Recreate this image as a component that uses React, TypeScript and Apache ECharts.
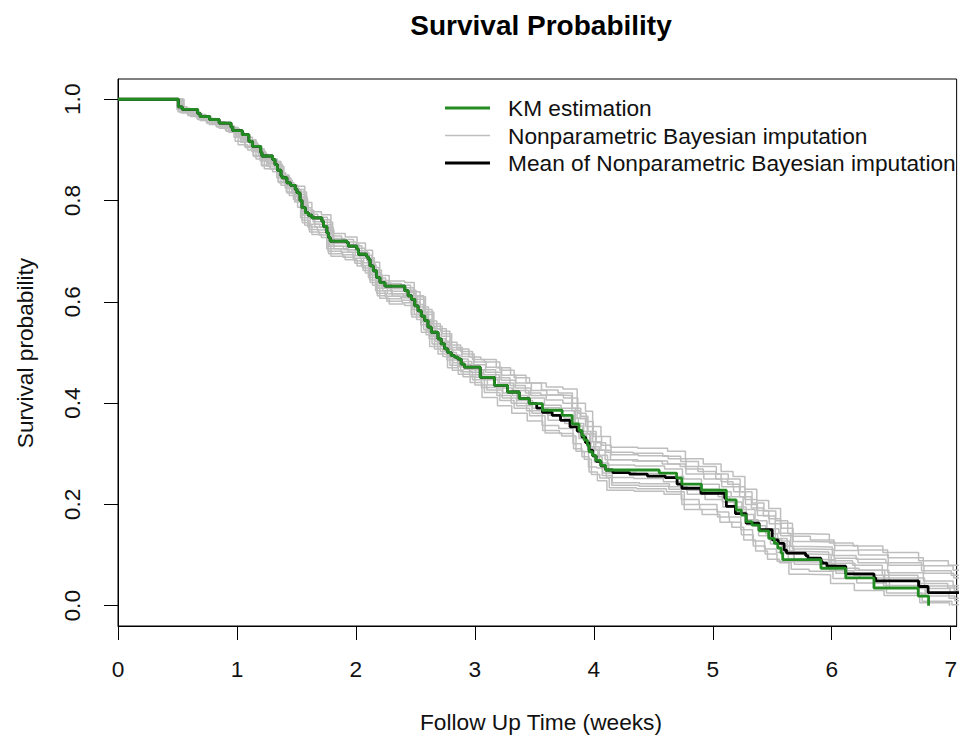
import React, { useEffect, useRef } from "react";
import * as echarts from "echarts";

// Step curves: each pair is [time in weeks, survival probability from that time on]
const kmEstimation: [number, number][] = [
  [0, 1], [0.507, 0.985], [0.54, 0.98], [0.67, 0.972], [0.69, 0.966], [0.77, 0.96], [0.85, 0.953],
  [0.95, 0.945], [0.965, 0.938], [1.045, 0.93], [1.1, 0.917], [1.13, 0.907], [1.2, 0.895], [1.21, 0.888],
  [1.3, 0.881], [1.32, 0.871], [1.34, 0.86], [1.37, 0.849], [1.38, 0.845], [1.42, 0.835], [1.45, 0.83],
  [1.49, 0.822], [1.505, 0.815], [1.53, 0.8], [1.547, 0.786], [1.575, 0.776], [1.6, 0.771], [1.63, 0.766],
  [1.714, 0.759], [1.728, 0.749], [1.756, 0.736], [1.77, 0.727], [1.784, 0.72], [1.923, 0.717], [1.937, 0.71],
  [2.007, 0.704], [2.021, 0.694], [2.09, 0.689], [2.104, 0.684], [2.119, 0.671], [2.146, 0.661], [2.174, 0.648],
  [2.202, 0.638], [2.244, 0.631], [2.411, 0.622], [2.439, 0.612], [2.467, 0.605], [2.495, 0.592], [2.523, 0.582],
  [2.55, 0.572], [2.578, 0.563], [2.606, 0.55], [2.634, 0.54], [2.69, 0.527], [2.717, 0.517], [2.746, 0.507],
  [2.773, 0.5], [2.801, 0.494], [2.829, 0.491], [2.857, 0.487], [2.885, 0.477], [2.913, 0.471], [3.045, 0.451],
  [3.164, 0.435], [3.275, 0.422], [3.373, 0.409], [3.457, 0.399], [3.568, 0.386], [3.734, 0.376], [3.818, 0.359],
  [3.875, 0.346], [3.9, 0.336], [3.918, 0.327], [3.946, 0.317], [3.96, 0.304], [3.988, 0.297], [4.016, 0.287],
  [4.058, 0.277], [4.1, 0.268], [4.55, 0.262], [4.696, 0.252], [4.74, 0.24], [4.905, 0.228], [5.114, 0.209],
  [5.197, 0.189], [5.24, 0.179], [5.28, 0.166], [5.33, 0.159], [5.39, 0.148], [5.47, 0.133], [5.518, 0.123],
  [5.546, 0.114], [5.574, 0.104], [5.588, 0.091], [5.909, 0.074], [6.118, 0.055], [6.355, 0.035], [6.727, 0.019],
  [6.814, 0],
];

const imputationMean: [number, number][] = [
  [0, 1], [0.507, 0.985], [0.54, 0.98], [0.67, 0.972], [0.69, 0.966], [0.77, 0.96], [0.85, 0.953],
  [0.95, 0.945], [0.965, 0.938], [1.045, 0.93], [1.1, 0.917], [1.13, 0.907], [1.2, 0.895], [1.21, 0.888],
  [1.3, 0.881], [1.32, 0.871], [1.34, 0.86], [1.37, 0.849], [1.38, 0.845], [1.42, 0.835], [1.45, 0.83],
  [1.49, 0.822], [1.505, 0.815], [1.53, 0.8], [1.547, 0.786], [1.575, 0.776], [1.6, 0.771], [1.63, 0.766],
  [1.714, 0.759], [1.728, 0.749], [1.756, 0.736], [1.77, 0.727], [1.784, 0.72], [1.923, 0.717], [1.937, 0.71],
  [2.007, 0.704], [2.021, 0.694], [2.09, 0.689], [2.104, 0.684], [2.119, 0.671], [2.146, 0.661], [2.174, 0.648],
  [2.202, 0.638], [2.244, 0.631], [2.411, 0.622], [2.439, 0.612], [2.467, 0.605], [2.495, 0.592], [2.523, 0.582],
  [2.55, 0.572], [2.578, 0.563], [2.606, 0.55], [2.634, 0.54], [2.69, 0.527], [2.717, 0.517], [2.746, 0.507],
  [2.773, 0.5], [2.801, 0.494], [2.829, 0.491], [2.857, 0.487], [2.885, 0.477], [2.913, 0.471], [3.045, 0.451],
  [3.164, 0.435], [3.275, 0.422], [3.373, 0.409], [3.457, 0.399], [3.52, 0.39], [3.568, 0.382], [3.65, 0.376],
  [3.72, 0.366], [3.8, 0.353], [3.86, 0.345], [3.9, 0.333], [3.93, 0.322], [3.96, 0.307], [3.99, 0.296],
  [4.02, 0.285], [4.06, 0.276], [4.1, 0.268], [4.16, 0.263], [4.3, 0.26], [4.45, 0.256], [4.6, 0.253],
  [4.7, 0.24], [4.74, 0.232], [4.9, 0.222], [5.1, 0.212], [5.114, 0.196], [5.19, 0.182], [5.28, 0.163],
  [5.39, 0.15], [5.5, 0.13], [5.55, 0.123], [5.6, 0.11], [5.62, 0.104], [5.78, 0.099], [5.8, 0.094],
  [5.909, 0.088], [5.92, 0.084], [5.96, 0.078], [6.118, 0.063], [6.355, 0.055], [6.37, 0.049], [6.73, 0.038],
  [6.81, 0.026], [7.2, 0.026],
];

const imputation1: [number, number][] = [
  [0, 1], [0.53, 0.982], [0.61, 0.975], [0.69, 0.967], [0.78, 0.959], [0.85, 0.952], [0.94, 0.944], [1.01, 0.93],
  [1.09, 0.92], [1.16, 0.902], [1.23, 0.883], [1.3, 0.877], [1.37, 0.85], [1.44, 0.83], [1.51, 0.828],
  [1.57, 0.796], [1.63, 0.778], [1.71, 0.772], [1.79, 0.735], [1.91, 0.728], [2.01, 0.716], [2.08, 0.702],
  [2.14, 0.678], [2.2, 0.652], [2.28, 0.641], [2.41, 0.638], [2.49, 0.612], [2.57, 0.585], [2.64, 0.557],
  [2.71, 0.542], [2.79, 0.515], [2.88, 0.502], [2.98, 0.486], [3.08, 0.481], [3.21, 0.465], [3.33, 0.45],
  [3.46, 0.44], [3.6, 0.432], [3.74, 0.428], [3.86, 0.4], [3.93, 0.384], [3.99, 0.354], [4.06, 0.334],
  [4.14, 0.313], [4.37, 0.311], [4.62, 0.305], [4.77, 0.29], [4.92, 0.28], [5.07, 0.265], [5.17, 0.255],
  [5.27, 0.23], [5.37, 0.208], [5.47, 0.192], [5.57, 0.163], [5.67, 0.137], [5.82, 0.13], [6.02, 0.119],
  [6.22, 0.11], [6.47, 0.095], [6.77, 0.079], [7.02, 0.07], [7.2, 0.07],
];

const imputation2: [number, number][] = [
  [0, 1], [0.51, 0.975], [0.59, 0.968], [0.67, 0.96], [0.75, 0.952], [0.83, 0.945], [0.91, 0.937], [0.99, 0.925],
  [1.07, 0.905], [1.14, 0.887], [1.21, 0.868], [1.28, 0.862], [1.35, 0.835], [1.42, 0.815], [1.49, 0.8],
  [1.55, 0.756], [1.61, 0.738], [1.69, 0.732], [1.77, 0.695], [1.89, 0.688], [1.99, 0.676], [2.06, 0.662],
  [2.12, 0.638], [2.18, 0.612], [2.26, 0.601], [2.39, 0.598], [2.47, 0.57], [2.55, 0.54], [2.62, 0.512],
  [2.69, 0.497], [2.77, 0.47], [2.86, 0.457], [2.96, 0.441], [3.06, 0.411], [3.19, 0.395], [3.31, 0.38],
  [3.44, 0.365], [3.57, 0.346], [3.71, 0.34], [3.83, 0.31], [3.9, 0.294], [3.96, 0.264], [4.03, 0.247],
  [4.11, 0.228], [4.34, 0.226], [4.59, 0.22], [4.74, 0.2], [4.89, 0.19], [5.04, 0.175], [5.14, 0.165],
  [5.24, 0.14], [5.34, 0.118], [5.44, 0.102], [5.54, 0.088], [5.64, 0.062], [5.79, 0.061], [5.99, 0.044],
  [6.19, 0.03], [6.44, 0.02], [6.74, 0.006], [6.99, 0],
];

const imputation3: [number, number][] = [
  [0, 1], [0.54, 0.98], [0.62, 0.973], [0.7, 0.965], [0.78, 0.957], [0.86, 0.95], [0.94, 0.942], [1.02, 0.925],
  [1.1, 0.915], [1.17, 0.897], [1.24, 0.878], [1.31, 0.872], [1.38, 0.845], [1.45, 0.825], [1.52, 0.812],
  [1.58, 0.776], [1.64, 0.758], [1.72, 0.752], [1.8, 0.715], [1.92, 0.708], [2.02, 0.696], [2.09, 0.682],
  [2.15, 0.658], [2.21, 0.632], [2.29, 0.621], [2.42, 0.618], [2.5, 0.605], [2.58, 0.575], [2.65, 0.547],
  [2.72, 0.532], [2.8, 0.505], [2.89, 0.492], [2.99, 0.476], [3.09, 0.461], [3.22, 0.445], [3.34, 0.43],
  [3.47, 0.415], [3.6, 0.406], [3.74, 0.4], [3.86, 0.37], [3.93, 0.354], [3.99, 0.324], [4.06, 0.307],
  [4.14, 0.288], [4.37, 0.286], [4.62, 0.28], [4.77, 0.27], [4.92, 0.26], [5.07, 0.245], [5.17, 0.235],
  [5.27, 0.21], [5.37, 0.188], [5.47, 0.172], [5.57, 0.138], [5.67, 0.112], [5.82, 0.111], [6.02, 0.094],
  [6.22, 0.085], [6.47, 0.065], [6.77, 0.049], [7.02, 0.04], [7.2, 0.04],
];

const imputation4: [number, number][] = [
  [0, 1], [0.555, 0.977], [0.635, 0.97], [0.715, 0.962], [0.795, 0.954], [0.875, 0.947], [0.955, 0.939],
  [1.035, 0.92], [1.115, 0.91], [1.185, 0.892], [1.255, 0.873], [1.325, 0.867], [1.395, 0.84], [1.465, 0.82],
  [1.535, 0.802], [1.595, 0.766], [1.655, 0.748], [1.735, 0.742], [1.815, 0.705], [1.935, 0.698], [2.035, 0.686],
  [2.105, 0.672], [2.165, 0.648], [2.225, 0.622], [2.305, 0.611], [2.435, 0.608], [2.515, 0.58], [2.595, 0.55],
  [2.665, 0.522], [2.735, 0.507], [2.815, 0.48], [2.905, 0.467], [3.005, 0.451], [3.105, 0.436], [3.235, 0.42],
  [3.355, 0.405], [3.485, 0.39], [3.615, 0.366], [3.755, 0.36], [3.875, 0.33], [3.945, 0.314], [4.005, 0.284],
  [4.075, 0.262], [4.155, 0.243], [4.385, 0.241], [4.635, 0.235], [4.785, 0.22], [4.935, 0.21], [5.085, 0.195],
  [5.185, 0.185], [5.285, 0.16], [5.385, 0.138], [5.485, 0.122], [5.585, 0.108], [5.685, 0.082], [5.835, 0.081],
  [6.035, 0.064], [6.235, 0.055], [6.485, 0.035], [6.785, 0.019], [7.035, 0.01], [7.2, 0.01],
];

const imputation5: [number, number][] = [
  [0, 1], [0.5, 0.985], [0.58, 0.978], [0.66, 0.97], [0.74, 0.962], [0.82, 0.955], [0.9, 0.947], [0.98, 0.935],
  [1.06, 0.925], [1.13, 0.907], [1.2, 0.888], [1.27, 0.882], [1.34, 0.855], [1.41, 0.835], [1.48, 0.822],
  [1.54, 0.791], [1.6, 0.773], [1.68, 0.767], [1.76, 0.73], [1.88, 0.723], [1.98, 0.711], [2.05, 0.697],
  [2.11, 0.673], [2.17, 0.647], [2.25, 0.636], [2.38, 0.633], [2.46, 0.62], [2.54, 0.59], [2.61, 0.562],
  [2.68, 0.547], [2.76, 0.52], [2.85, 0.507], [2.95, 0.491], [3.05, 0.486], [3.18, 0.47], [3.3, 0.455],
  [3.43, 0.44], [3.56, 0.426], [3.7, 0.42], [3.82, 0.39], [3.89, 0.374], [3.95, 0.344], [4.02, 0.322],
  [4.1, 0.303], [4.33, 0.301], [4.58, 0.295], [4.73, 0.285], [4.88, 0.275], [5.03, 0.26], [5.13, 0.25],
  [5.23, 0.225], [5.33, 0.203], [5.43, 0.187], [5.53, 0.168], [5.63, 0.142], [5.78, 0.141], [5.98, 0.124],
  [6.18, 0.118], [6.43, 0.105], [6.73, 0.089], [6.98, 0.08], [7.2, 0.08],
];

const imputation6: [number, number][] = [
  [0, 1], [0.53, 0.973], [0.61, 0.966], [0.69, 0.958], [0.77, 0.95], [0.85, 0.943], [0.93, 0.935], [1.01, 0.91],
  [1.09, 0.9], [1.16, 0.882], [1.23, 0.863], [1.3, 0.857], [1.37, 0.83], [1.44, 0.81], [1.51, 0.787],
  [1.57, 0.751], [1.63, 0.733], [1.71, 0.727], [1.79, 0.69], [1.91, 0.683], [2.01, 0.671], [2.08, 0.657],
  [2.14, 0.633], [2.2, 0.607], [2.28, 0.596], [2.41, 0.593], [2.49, 0.575], [2.57, 0.545], [2.64, 0.517],
  [2.71, 0.502], [2.79, 0.475], [2.88, 0.462], [2.98, 0.446], [3.08, 0.421], [3.21, 0.405], [3.33, 0.39],
  [3.46, 0.375], [3.59, 0.341], [3.73, 0.335], [3.85, 0.305], [3.92, 0.289], [3.98, 0.259], [4.05, 0.252],
  [4.13, 0.233], [4.36, 0.231], [4.61, 0.225], [4.76, 0.19], [4.91, 0.18], [5.06, 0.165], [5.16, 0.155],
  [5.26, 0.13], [5.36, 0.108], [5.46, 0.092], [5.56, 0.085], [5.66, 0.072], [5.81, 0.068], [6.01, 0.054],
  [6.21, 0.045], [6.46, 0.025], [6.76, 0.009], [7.01, 0.002], [7.2, 0.002],
];

const imputation7: [number, number][] = [
  [0, 1], [0.515, 0.981], [0.595, 0.974], [0.675, 0.966], [0.755, 0.958], [0.835, 0.951], [0.915, 0.943],
  [0.995, 0.927], [1.075, 0.917], [1.145, 0.899], [1.215, 0.88], [1.285, 0.874], [1.355, 0.847], [1.425, 0.827],
  [1.495, 0.807], [1.555, 0.771], [1.615, 0.753], [1.695, 0.747], [1.775, 0.71], [1.895, 0.703], [1.995, 0.691],
  [2.065, 0.677], [2.125, 0.653], [2.185, 0.627], [2.265, 0.616], [2.395, 0.613], [2.475, 0.585], [2.555, 0.56],
  [2.625, 0.532], [2.695, 0.517], [2.775, 0.49], [2.865, 0.477], [2.965, 0.461], [3.065, 0.446], [3.195, 0.43],
  [3.315, 0.415], [3.445, 0.4], [3.575, 0.391], [3.715, 0.385], [3.835, 0.355], [3.905, 0.339], [3.965, 0.309],
  [4.035, 0.297], [4.115, 0.278], [4.345, 0.276], [4.595, 0.27], [4.745, 0.24], [4.895, 0.23], [5.045, 0.215],
  [5.145, 0.205], [5.245, 0.18], [5.345, 0.158], [5.445, 0.142], [5.545, 0.128], [5.645, 0.102], [5.795, 0.101],
  [5.995, 0.084], [6.195, 0.07], [6.445, 0.05], [6.745, 0.034], [6.995, 0.025], [7.2, 0.025],
];

const imputation8: [number, number][] = [
  [0, 1], [0.545, 0.979], [0.625, 0.972], [0.705, 0.964], [0.785, 0.956], [0.865, 0.949], [0.945, 0.941],
  [1.025, 0.923], [1.105, 0.913], [1.175, 0.895], [1.245, 0.876], [1.315, 0.87], [1.385, 0.843], [1.455, 0.823],
  [1.525, 0.817], [1.585, 0.781], [1.645, 0.763], [1.725, 0.757], [1.805, 0.72], [1.925, 0.713], [2.025, 0.701],
  [2.095, 0.687], [2.155, 0.663], [2.215, 0.637], [2.295, 0.626], [2.425, 0.623], [2.505, 0.61], [2.585, 0.58],
  [2.655, 0.552], [2.725, 0.537], [2.805, 0.51], [2.895, 0.497], [2.995, 0.481], [3.095, 0.471], [3.225, 0.455],
  [3.345, 0.44], [3.475, 0.425], [3.605, 0.416], [3.745, 0.41], [3.865, 0.38], [3.935, 0.364], [3.995, 0.334],
  [4.065, 0.317], [4.145, 0.298], [4.375, 0.296], [4.625, 0.29], [4.775, 0.26], [4.925, 0.25], [5.075, 0.235],
  [5.175, 0.225], [5.275, 0.2], [5.375, 0.178], [5.475, 0.162], [5.575, 0.153], [5.675, 0.127], [5.825, 0.126],
  [6.025, 0.109], [6.225, 0.1], [6.475, 0.08], [6.775, 0.064], [7.025, 0.055], [7.2, 0.055],
];

const imputation9: [number, number][] = [
  [0, 1], [0.505, 0.976], [0.585, 0.969], [0.665, 0.961], [0.745, 0.953], [0.825, 0.946], [0.905, 0.938],
  [0.985, 0.917], [1.065, 0.907], [1.135, 0.889], [1.205, 0.87], [1.275, 0.864], [1.345, 0.837], [1.415, 0.817],
  [1.485, 0.797], [1.545, 0.761], [1.605, 0.743], [1.685, 0.737], [1.765, 0.7], [1.885, 0.693], [1.985, 0.681],
  [2.055, 0.667], [2.115, 0.643], [2.175, 0.617], [2.255, 0.606], [2.385, 0.603], [2.465, 0.575], [2.545, 0.555],
  [2.615, 0.527], [2.685, 0.512], [2.765, 0.485], [2.855, 0.472], [2.955, 0.456], [3.055, 0.431], [3.185, 0.415],
  [3.305, 0.4], [3.435, 0.385], [3.565, 0.356], [3.705, 0.35], [3.825, 0.32], [3.895, 0.304], [3.955, 0.274],
  [4.025, 0.272], [4.105, 0.253], [4.335, 0.251], [4.585, 0.245], [4.735, 0.21], [4.885, 0.2], [5.035, 0.185],
  [5.135, 0.175], [5.235, 0.15], [5.335, 0.128], [5.435, 0.112], [5.535, 0.105], [5.635, 0.087], [5.785, 0.086],
  [5.985, 0.069], [6.185, 0.06], [6.435, 0.04], [6.735, 0.024], [6.985, 0.015], [7.2, 0.015],
];

const imputation10: [number, number][] = [
  [0, 1], [0.525, 0.982], [0.605, 0.975], [0.685, 0.967], [0.765, 0.959], [0.845, 0.952], [0.925, 0.944],
  [1.005, 0.93], [1.085, 0.92], [1.155, 0.902], [1.225, 0.883], [1.295, 0.877], [1.365, 0.85], [1.435, 0.83],
  [1.505, 0.822], [1.565, 0.786], [1.625, 0.768], [1.705, 0.762], [1.785, 0.725], [1.905, 0.718], [2.005, 0.706],
  [2.075, 0.692], [2.135, 0.668], [2.195, 0.642], [2.275, 0.631], [2.405, 0.628], [2.485, 0.595], [2.565, 0.565],
  [2.635, 0.537], [2.705, 0.522], [2.785, 0.495], [2.875, 0.482], [2.975, 0.466], [3.075, 0.456], [3.205, 0.44],
  [3.325, 0.425], [3.455, 0.41], [3.585, 0.396], [3.725, 0.39], [3.845, 0.36], [3.915, 0.344], [3.975, 0.314],
  [4.045, 0.282], [4.125, 0.263], [4.355, 0.261], [4.605, 0.255], [4.755, 0.25], [4.905, 0.24], [5.055, 0.225],
  [5.155, 0.215], [5.255, 0.19], [5.355, 0.168], [5.455, 0.152], [5.555, 0.143], [5.655, 0.117], [5.805, 0.116],
  [6.005, 0.099], [6.205, 0.092], [6.455, 0.085], [6.755, 0.069], [7.005, 0.06], [7.2, 0.06],
];

const imputation11: [number, number][] = [
  [0, 1], [0.55, 0.975], [0.63, 0.968], [0.71, 0.96], [0.79, 0.952], [0.87, 0.945], [0.95, 0.937], [1.03, 0.915],
  [1.11, 0.905], [1.18, 0.887], [1.25, 0.868], [1.32, 0.862], [1.39, 0.835], [1.46, 0.815], [1.53, 0.807],
  [1.59, 0.771], [1.65, 0.753], [1.73, 0.747], [1.81, 0.71], [1.93, 0.703], [2.03, 0.691], [2.1, 0.677],
  [2.16, 0.653], [2.22, 0.627], [2.3, 0.616], [2.43, 0.613], [2.51, 0.565], [2.59, 0.535], [2.66, 0.507],
  [2.73, 0.492], [2.81, 0.465], [2.9, 0.452], [3.0, 0.436], [3.1, 0.426], [3.23, 0.41], [3.35, 0.395],
  [3.48, 0.38], [3.61, 0.376], [3.75, 0.37], [3.87, 0.34], [3.94, 0.324], [4.0, 0.294], [4.07, 0.257],
  [4.15, 0.238], [4.38, 0.236], [4.63, 0.23], [4.78, 0.228], [4.93, 0.22], [5.08, 0.205], [5.18, 0.195],
  [5.28, 0.17], [5.38, 0.148], [5.48, 0.132], [5.58, 0.118], [5.68, 0.092], [5.83, 0.091], [6.03, 0.074],
  [6.23, 0.07], [6.48, 0.055], [6.78, 0.039], [7.03, 0.03], [7.2, 0.03],
];

const imputation12: [number, number][] = [
  [0, 1], [0.495, 0.98], [0.575, 0.973], [0.655, 0.965], [0.735, 0.957], [0.815, 0.95], [0.895, 0.942],
  [0.975, 0.925], [1.055, 0.915], [1.125, 0.897], [1.195, 0.878], [1.265, 0.872], [1.335, 0.845], [1.405, 0.825],
  [1.475, 0.802], [1.535, 0.766], [1.595, 0.748], [1.675, 0.742], [1.755, 0.705], [1.875, 0.698], [1.975, 0.686],
  [2.045, 0.672], [2.105, 0.648], [2.165, 0.622], [2.245, 0.611], [2.375, 0.608], [2.455, 0.6], [2.535, 0.57],
  [2.605, 0.542], [2.675, 0.527], [2.755, 0.5], [2.845, 0.487], [2.945, 0.471], [3.045, 0.466], [3.175, 0.45],
  [3.295, 0.435], [3.425, 0.42], [3.555, 0.416], [3.695, 0.415], [3.815, 0.385], [3.885, 0.369], [3.945, 0.339],
  [4.015, 0.307], [4.095, 0.288], [4.325, 0.286], [4.575, 0.28], [4.725, 0.275], [4.875, 0.265], [5.025, 0.25],
  [5.125, 0.24], [5.225, 0.215], [5.325, 0.193], [5.425, 0.177], [5.525, 0.133], [5.625, 0.107], [5.775, 0.106],
  [5.975, 0.089], [6.175, 0.08], [6.425, 0.06], [6.725, 0.044], [6.975, 0.035], [7.2, 0.035],
];

const imputations = [
  imputation1, imputation2, imputation3, imputation4, imputation5, imputation6,
  imputation7, imputation8, imputation9, imputation10, imputation11, imputation12,
];

const xTicks = [0, 1, 2, 3, 4, 5, 6, 7];
const yTicks = [0, 0.2, 0.4, 0.6, 0.8, 1.0];

const chartTitle = "Survival Probability";
const xAxisTitle = "Follow Up Time (weeks)";
const yAxisTitle = "Survival probability";
const legendNames = [
  "KM estimation",
  "Nonparametric Bayesian imputation",
  "Mean of Nonparametric Bayesian imputation",
];

const FONT = "'Liberation Sans', Arial, sans-serif";
const GREEN = "#228B22";
const GREY = "#BEBEBE";
const BLACK = "#000000";

export default function App() {
  const ref = useRef<HTMLDivElement>(null);

  useEffect(() => {
    if (!ref.current) return;
    const chart = echarts.init(ref.current, undefined, { renderer: "svg" });

    const greySeries = imputations.map((curve, i) => ({
      name: legendNames[1],
      id: "imp" + i,
      type: "line",
      step: "end",
      showSymbol: false,
      symbol: "none",
      data: curve,
      lineStyle: { color: GREY, width: 1.5 },
      z: 2,
    }));

    const legendColors = [GREEN, GREY, BLACK];
    const legendWidths = [2.8, 1.5, 2.8];
    const legendRowsY = [108, 135.5, 163];
    const legendGraphics: any[] = [];
    legendNames.forEach((name, i) => {
      legendGraphics.push({
        type: "line",
        shape: { x1: 445, y1: legendRowsY[i], x2: 490, y2: legendRowsY[i] },
        style: { stroke: legendColors[i], lineWidth: legendWidths[i] },
      });
      legendGraphics.push({
        type: "text",
        x: 508,
        y: legendRowsY[i],
        style: {
          text: name,
          font: `22.7px ${FONT}`,
          fill: "#111",
          verticalAlign: "middle",
        },
      });
    });

    chart.setOption({
      animation: false,
      backgroundColor: "#ffffff",
      grid: {
        left: 118,
        top: 79,
        width: 844,
        height: 547,
        show: true,
        borderColor: "#000",
        borderWidth: 1,
        backgroundColor: "transparent",
        containLabel: false,
      },
      xAxis: {
        type: "value",
        min: 0,
        max: 7.05,
        axisLine: { show: true, onZero: false, lineStyle: { color: "#000", width: 1 } },
        axisTick: {
          show: true,
          customValues: xTicks,
          length: 14,
          lineStyle: { color: "#000", width: 1 },
        },
        axisLabel: {
          customValues: xTicks,
          margin: 31,
          fontSize: 22.7,
          fontFamily: FONT,
          color: "#111",
          formatter: (v: number) => String(v),
        },
        splitLine: { show: false },
      },
      yAxis: {
        type: "value",
        min: -0.04,
        max: 1.04,
        axisLine: { show: true, onZero: false, lineStyle: { color: "#000", width: 1 } },
        axisTick: {
          show: true,
          customValues: yTicks,
          length: 14,
          lineStyle: { color: "#000", width: 1 },
        },
        axisLabel: {
          customValues: yTicks,
          rotate: 90,
          margin: 35,
          fontSize: 22.7,
          fontFamily: FONT,
          color: "#111",
          formatter: (v: number) => v.toFixed(1),
        },
        splitLine: { show: false },
      },
      graphic: [
        {
          type: "text",
          x: 541,
          y: 25,
          style: {
            text: chartTitle,
            font: `bold 28px ${FONT}`,
            fill: "#000",
            align: "center",
            verticalAlign: "middle",
          },
        },
        {
          type: "text",
          x: 541,
          y: 722,
          style: {
            text: xAxisTitle,
            font: `22.7px ${FONT}`,
            fill: "#111",
            align: "center",
            verticalAlign: "middle",
          },
        },
        {
          type: "text",
          x: 25,
          y: 353,
          rotation: Math.PI / 2,
          style: {
            text: yAxisTitle,
            font: `22.7px ${FONT}`,
            fill: "#111",
            align: "center",
            verticalAlign: "middle",
          },
        },
        ...legendGraphics,
      ],
      series: [
        ...greySeries,
        {
          name: legendNames[2],
          type: "line",
          step: "end",
          showSymbol: false,
          symbol: "none",
          data: imputationMean,
          lineStyle: { color: BLACK, width: 2.8 },
          z: 3,
        },
        {
          name: legendNames[0],
          type: "line",
          step: "end",
          showSymbol: false,
          symbol: "none",
          data: kmEstimation,
          lineStyle: { color: GREEN, width: 2.8 },
          z: 4,
        },
      ],
    });

    return () => chart.dispose();
  }, []);

  return (
    <div
      ref={ref}
      style={{ position: "fixed", left: 0, top: 0, width: 960, height: 740, background: "#fff" }}
    />
  );
}
